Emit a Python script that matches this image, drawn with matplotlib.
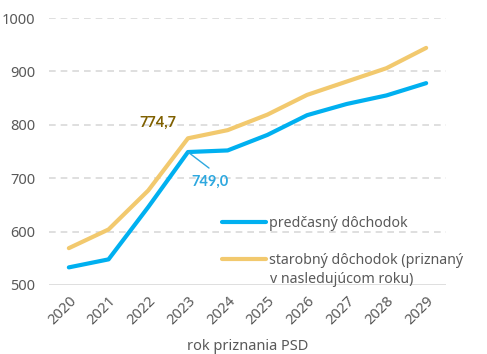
import matplotlib
matplotlib.use("Agg")
import matplotlib.pyplot as plt

roky = ["2020", "2021", "2022", "2023", "2024", "2025", "2026", "2027", "2028", "2029"]
predcasny = [533, 548, 646, 749.0, 752, 781, 818, 839, 855, 878]
starobny = [569, 604, 677, 774.7, 790, 819, 856, 881, 906, 944]

plt.rcParams['font.family'] = ['Noto Sans', 'DejaVu Sans']

fig = plt.figure(figsize=(4.87, 3.54), dpi=100)
ax = fig.add_axes([49/487, 1 - 285/354, 397/487, 267/354])

x = list(range(len(roky)))
modra = "#00B0F0"
zlta = "#F2C96E"
siva = "#595959"

ax.plot(x, predcasny, color=modra, lw=3, solid_capstyle="round", zorder=3,
        label="predčasný dôchodok")
ax.plot(x, starobny, color=zlta, lw=3, solid_capstyle="round", zorder=2,
        label="starobný dôchodok (priznaný")

ax.set_xlim(-0.5, 9.5)
ax.set_ylim(500, 1000)
ax.set_yticks([500, 600, 700, 800, 900, 1000])
ax.set_xticks(x)
ax.set_xticklabels(roky, rotation=45, ha="right", rotation_mode="anchor")
ax.tick_params(length=0, labelsize=10.5, colors=siva)
ax.tick_params(axis="y", pad=10)
ax.tick_params(axis="x", pad=6)

for s in ax.spines.values():
    s.set_visible(False)
for v in [600, 700, 800, 900, 1000]:
    ax.axhline(v, color="#D9D9D9", lw=1.2, ls=(0, (4, 3)), zorder=0)
ax.axhline(500, color="#D9D9D9", lw=1.2, zorder=0)

ax.set_xlabel("rok priznania PSD", fontsize=10.5, color=siva, labelpad=8)

# popisky hodnot
ax.text(2.24, 803, "774,7", fontsize=10.5, fontweight="bold", family="Lato",
        color="#7F6000", ha="center", va="center")
ax.text(3.55, 693, "749,0", fontsize=10.5, fontweight="bold", family="Lato",
        color="#2EA8DF", ha="center", va="center")
ax.annotate("", xy=(3, predcasny[3]), xytext=(3.53, 719),
            arrowprops=dict(arrowstyle="-", color="#2EA8DF", lw=1,
                            shrinkA=0, shrinkB=0))

leg = ax.legend(loc="upper left", bbox_to_anchor=(0.436, 0.257), frameon=False,
                fontsize=10.2, handlelength=3.1, handletextpad=0.2,
                labelspacing=1.5, borderaxespad=0, borderpad=0)
for t in leg.get_texts():
    t.set_color(siva)
ax.text(0.557, 0.02, "v nasledujúcom roku)", transform=ax.transAxes,
        fontsize=10.2, color=siva, ha="left", va="center")

fig.savefig("out.png", dpi=100)
